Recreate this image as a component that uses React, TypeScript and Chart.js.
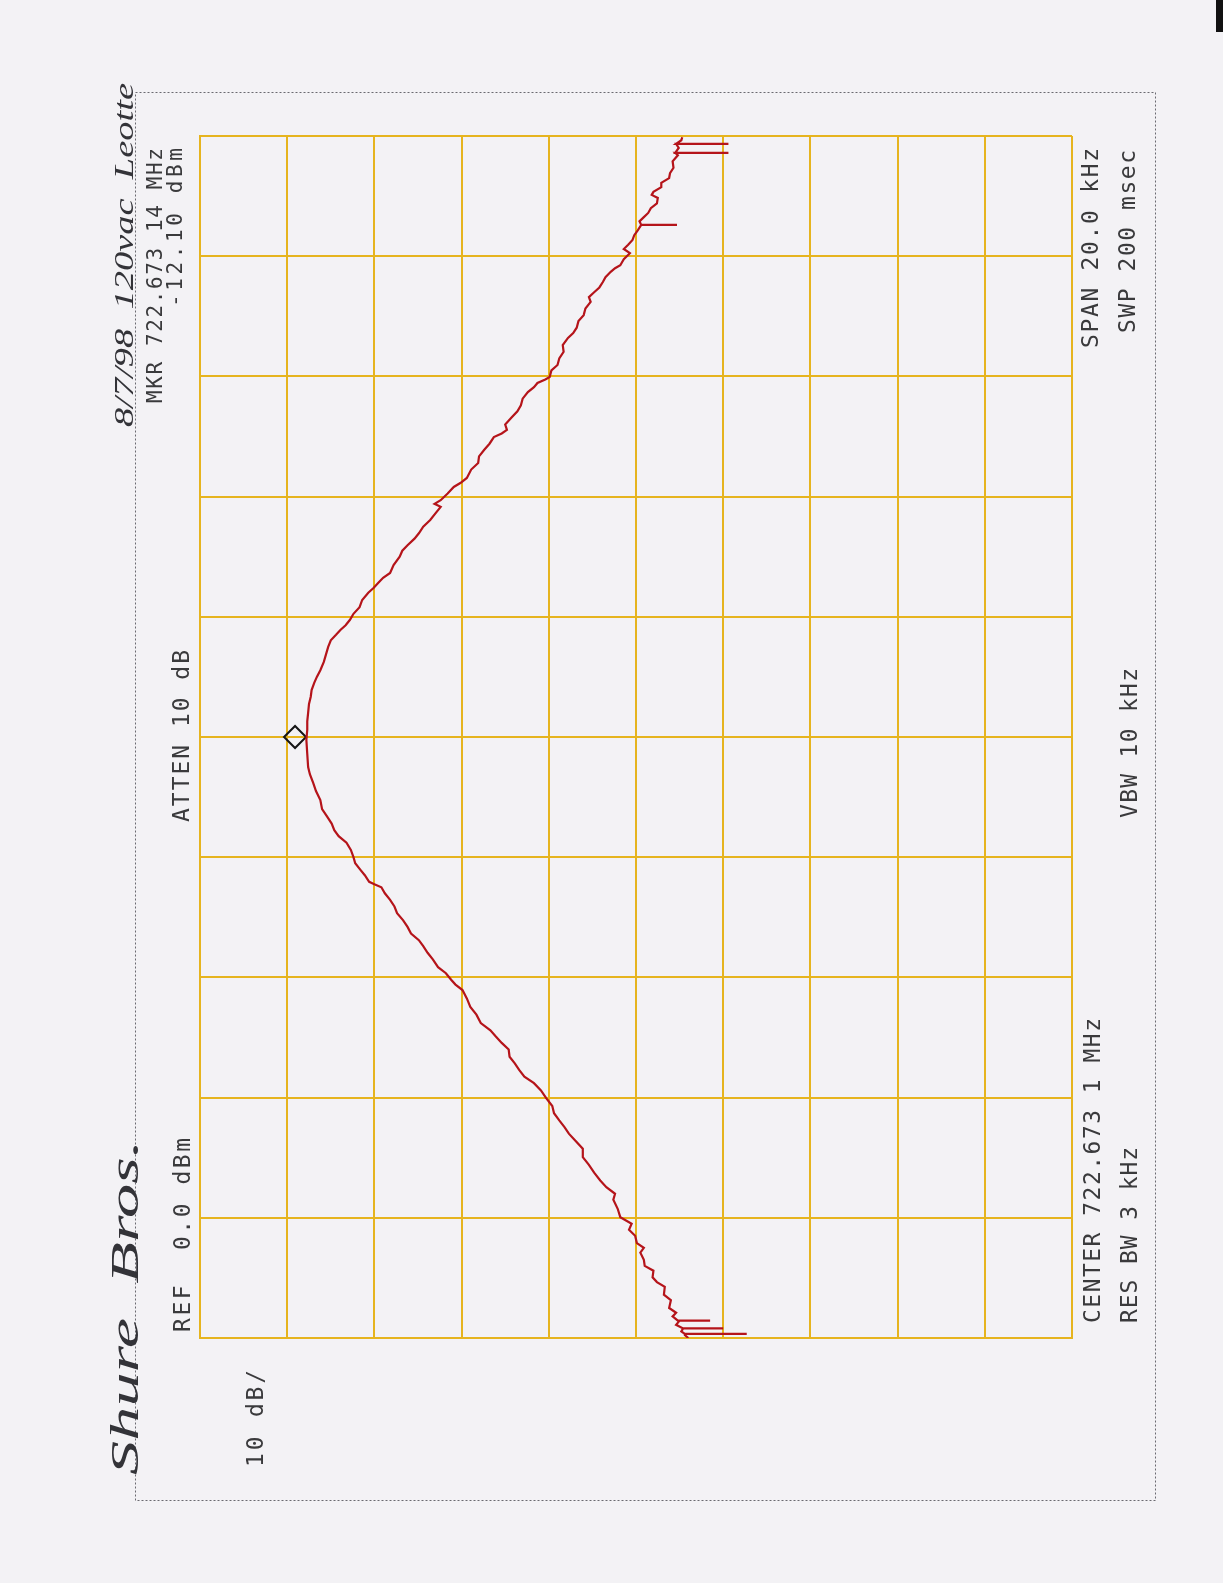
import { useEffect, useRef } from 'react';
import { Chart, registerables } from 'chart.js';

Chart.register(...registerables);

// Spectrum analyzer: center 722.6731 MHz, span 20 kHz, ref 0 dBm, 10 dB/div
const centerMHz = 722.6731;
const freqOffsetKHz = [
  -10.00, -9.95, -9.93, -9.93, -9.93, -9.89, -9.84, -9.84, -9.84, -9.78,
  -9.71, -9.71, -9.71, -9.64, -9.58, -9.50, -9.37, -9.28, -9.15, -9.07,
  -8.99, -8.88, -8.80, -8.70, -8.58, -8.50, -8.42, -8.30, -8.20, -8.10,
  -7.99, -7.85, -7.70, -7.60, -7.49, -7.38, -7.25, -7.12, -6.99, -6.85,
  -6.71, -6.60, -6.49, -6.38, -6.26, -6.14, -6.01, -5.88, -5.76, -5.65,
  -5.54, -5.43, -5.32, -5.20, -5.09, -4.98, -4.88, -4.76, -4.62, -4.49,
  -4.35, -4.21, -4.12, -4.04, -3.93, -3.83, -3.70, -3.59, -3.48, -3.38,
  -3.27, -3.16, -3.05, -2.93, -2.82, -2.71, -2.60, -2.50, -2.45, -2.41,
  -2.30, -2.21, -2.10, -2.00, -1.88, -1.76, -1.65, -1.55, -1.44, -1.33,
  -1.20, -1.05, -0.90, -0.77, -0.62, -0.50, -0.28, -0.05, 0.12, 0.26,
  0.40, 0.55, 0.67, 0.78, 0.90, 1.00, 1.11, 1.25, 1.40, 1.50,
  1.61, 1.70, 1.78, 1.86, 1.95, 2.05, 2.16, 2.28, 2.40, 2.48,
  2.56, 2.65, 2.73, 2.86, 3.00, 3.10, 3.19, 3.30, 3.39, 3.50,
  3.61, 3.72, 3.83, 3.88, 3.94, 4.05, 4.16, 4.23, 4.31, 4.45,
  4.56, 4.67, 4.78, 4.88, 4.99, 5.05, 5.11, 5.20, 5.31, 5.42,
  5.52, 5.63, 5.74, 5.82, 5.89, 5.95, 5.99, 6.10, 6.19, 6.30,
  6.41, 6.52, 6.64, 6.72, 6.81, 6.92, 7.02, 7.13, 7.24, 7.32,
  7.40, 7.48, 7.57, 7.65, 7.74, 7.80, 7.85, 7.95, 8.05, 8.12,
  8.19, 8.27, 8.35, 8.43, 8.52, 8.52, 8.52, 8.58, 8.65, 8.72,
  8.80, 8.88, 8.97, 9.02, 9.07, 9.15, 9.22, 9.30, 9.38, 9.47,
  9.58, 9.68, 9.72, 9.72, 9.72, 9.80, 9.87, 9.87, 9.87, 9.93,
  9.98,
];
const levelDbm = [
  -56.0, -55.6, -55.6, -62.7, -55.6, -55.2, -55.4, -60.0, -55.4, -54.6,
  -55.0, -58.5, -54.8, -54.2, -54.6, -53.8, -54.0, -53.2, -53.3, -52.4,
  -51.9, -52.0, -51.0, -50.9, -50.5, -50.9, -50.1, -49.9, -49.2, -49.5,
  -48.2, -47.9, -47.4, -47.6, -46.6, -45.9, -45.2, -44.6, -43.9, -43.9,
  -43.0, -42.3, -41.8, -41.2, -40.6, -40.4, -39.7, -39.1, -38.3, -37.2,
  -36.6, -36.1, -35.5, -35.4, -34.6, -33.9, -33.3, -32.2, -31.7, -31.0,
  -30.6, -30.1, -29.3, -28.8, -28.2, -27.3, -26.7, -26.1, -25.6, -25.1,
  -24.2, -23.8, -23.3, -22.6, -22.3, -21.8, -21.2, -20.8, -20.0, -19.4,
  -18.9, -18.4, -17.8, -17.6, -17.3, -16.8, -15.9, -15.4, -15.1, -14.6,
  -14.0, -13.8, -13.3, -13.0, -12.6, -12.4, -12.3, -12.2, -12.3, -12.3,
  -12.4, -12.5, -12.7, -12.8, -13.1, -13.4, -13.8, -14.2, -14.5, -14.7,
  -15.0, -15.6, -16.1, -16.7, -17.2, -17.6, -18.3, -18.6, -19.3, -19.9,
  -20.4, -21.0, -21.8, -22.2, -22.9, -23.2, -23.8, -24.6, -25.1, -25.6,
  -26.4, -27.0, -27.6, -26.9, -27.6, -28.4, -29.1, -29.9, -30.6, -31.1,
  -31.9, -32.0, -32.6, -33.2, -33.7, -34.6, -35.2, -35.0, -35.7, -36.4,
  -36.8, -37.0, -37.6, -38.3, -38.7, -39.6, -40.1, -40.3, -41.0, -41.2,
  -41.7, -41.6, -42.2, -42.8, -43.2, -43.4, -44.0, -44.2, -44.8, -44.6,
  -45.2, -45.8, -46.2, -46.5, -47.1, -47.6, -48.2, -48.6, -49.3, -48.6,
  -49.1, -49.6, -49.8, -50.2, -50.6, -54.7, -50.6, -50.4, -50.9, -51.4,
  -51.7, -52.4, -52.5, -51.8, -52.0, -52.9, -52.9, -53.8, -53.9, -54.3,
  -54.2, -54.8, -54.5, -60.6, -54.5, -54.9, -54.6, -60.6, -54.6, -55.2,
  -55.3,
];
const markerFreqKHz = [0.0];
const markerLevelDbm = [-10.9];
const levelTicks = { min: -100, max: 0, step: 10 };
const freqTicks = { min: -10, max: 10, step: 2 };

const W = 1223;
const H = 1583;
const BG = '#f3f2f5';
const GRID = '#e6b41e';
const TRACE = '#b5141a';
const INK = '#3a3a3c';
const MONO = "'DejaVu Sans Mono', monospace";
const HAND = "'Liberation Serif', serif";

type Label = {
  text: string; x: number; y0: number; y1: number; size: number;
  family: string; style?: string; color: string; fit: 'spacing' | 'stretch';
};

const labels: Label[] = [
  { text: 'REF  0.0 dBm', x: 190, y0: 1332, y1: 1138, size: 23, family: MONO, color: INK, fit: 'spacing' },
  { text: 'ATTEN 10 dB', x: 189, y0: 822, y1: 650, size: 23, family: MONO, color: INK, fit: 'spacing' },
  { text: 'MKR 722.673 14 MHz', x: 162, y0: 403, y1: 148, size: 21, family: MONO, color: INK, fit: 'spacing' },
  { text: '-12.10 dBm', x: 182, y0: 307, y1: 148, size: 21, family: MONO, color: INK, fit: 'spacing' },
  { text: '10 dB/', x: 263, y0: 1467, y1: 1370, size: 23, family: MONO, color: INK, fit: 'spacing' },
  { text: `CENTER ${centerMHz.toFixed(3)} 1 MHz`, x: 1100, y0: 1323, y1: 1018, size: 23, family: MONO, color: INK, fit: 'spacing' },
  { text: 'RES BW 3 kHz', x: 1137, y0: 1323, y1: 1147, size: 23, family: MONO, color: INK, fit: 'spacing' },
  { text: 'VBW 10 kHz', x: 1137, y0: 818, y1: 668, size: 23, family: MONO, color: INK, fit: 'spacing' },
  { text: 'SPAN 20.0 kHz', x: 1098, y0: 348, y1: 148, size: 23, family: MONO, color: INK, fit: 'spacing' },
  { text: 'SWP 200 msec', x: 1135, y0: 333, y1: 150, size: 23, family: MONO, color: INK, fit: 'spacing' },
  { text: 'Shure  Bros.', x: 138, y0: 1475, y1: 1140, size: 40, family: HAND, style: 'italic', color: '#333338', fit: 'stretch' },
  { text: '8/7/98  120vac  Leotte', x: 133, y0: 427, y1: 83, size: 27, family: HAND, style: 'italic', color: '#333338', fit: 'stretch' },
];

function drawLabel(ctx: CanvasRenderingContext2D, l: Label) {
  ctx.save();
  const style = l.style ? l.style + ' ' : '';
  ctx.font = `${style}${l.size}px ${l.family}`;
  (ctx as any).letterSpacing = '0px';
  const w = ctx.measureText(l.text).width;
  const target = l.y0 - l.y1;
  ctx.translate(l.x, l.y0);
  ctx.rotate(-Math.PI / 2);
  if (l.fit === 'spacing') {
    const ls = (target - w) / Math.max(1, l.text.length - 1);
    (ctx as any).letterSpacing = `${ls}px`;
  } else {
    ctx.scale(target / w, 1);
  }
  ctx.fillStyle = l.color;
  ctx.textBaseline = 'alphabetic';
  ctx.textAlign = 'left';
  ctx.fillText(l.text, 0, 0);
  ctx.restore();
}

const pagePlugin = {
  id: 'page',
  beforeDraw(chart: any) {
    const ctx: CanvasRenderingContext2D = chart.ctx;
    ctx.save();
    ctx.fillStyle = BG;
    ctx.fillRect(0, 0, W, H);
    // dotted plotter frame
    ctx.strokeStyle = '#6a6a70';
    ctx.lineWidth = 1;
    ctx.setLineDash([2, 2]);
    ctx.strokeRect(135.5, 92.5, 1155 - 135, 1500 - 92);
    ctx.setLineDash([]);
    // scanner edge mark
    ctx.fillStyle = '#111';
    ctx.fillRect(1216, 0, 7, 32);
    ctx.restore();
  },
  afterDraw(chart: any) {
    const ctx: CanvasRenderingContext2D = chart.ctx;
    labels.forEach((l) => drawLabel(ctx, l));
  },
};

export default function App() {
  const ref = useRef<HTMLCanvasElement>(null);
  useEffect(() => {
    const canvas = ref.current!;
    const trace = freqOffsetKHz.map((f, i) => ({ x: levelDbm[i], y: f }));
    const marker = markerFreqKHz.map((f, i) => ({ x: markerLevelDbm[i], y: f }));
    const chart = new Chart(canvas, {
      type: 'scatter',
      data: {
        datasets: [
          {
            data: trace,
            showLine: true,
            borderColor: TRACE,
            backgroundColor: TRACE,
            borderWidth: 2.2,
            pointRadius: 0,
            tension: 0,
          },
          {
            data: marker,
            showLine: false,
            pointStyle: 'rectRot',
            pointRadius: 11,
            borderColor: '#151515',
            backgroundColor: 'rgba(0,0,0,0)',
            borderWidth: 2,
          },
        ],
      },
      options: {
        responsive: false,
        animation: false,
        devicePixelRatio: 1,
        layout: { padding: { left: 200, top: 136, right: W - 1072, bottom: H - 1338 } },
        plugins: { legend: { display: false }, tooltip: { enabled: false } },
        scales: {
          x: {
            type: 'linear',
            min: levelTicks.min,
            max: levelTicks.max,
            reverse: true,
            ticks: { display: false, stepSize: levelTicks.step },
            grid: { color: GRID, lineWidth: 2, drawTicks: false },
            border: { color: GRID, width: 2 },
            afterFit: (s: any) => { s.height = 0; },
          },
          y: {
            type: 'linear',
            min: freqTicks.min,
            max: freqTicks.max,
            ticks: { display: false, stepSize: freqTicks.step },
            grid: { color: GRID, lineWidth: 2, drawTicks: false },
            border: { color: GRID, width: 2 },
            afterFit: (s: any) => { s.width = 0; },
          },
        },
      } as any,
      plugins: [pagePlugin],
    });
    return () => chart.destroy();
  }, []);
  return (
    <div style={{ position: 'absolute', left: 0, top: 0, width: W, height: H, background: BG }}>
      <canvas ref={ref} width={W} height={H} style={{ display: 'block' }} />
    </div>
  );
}
